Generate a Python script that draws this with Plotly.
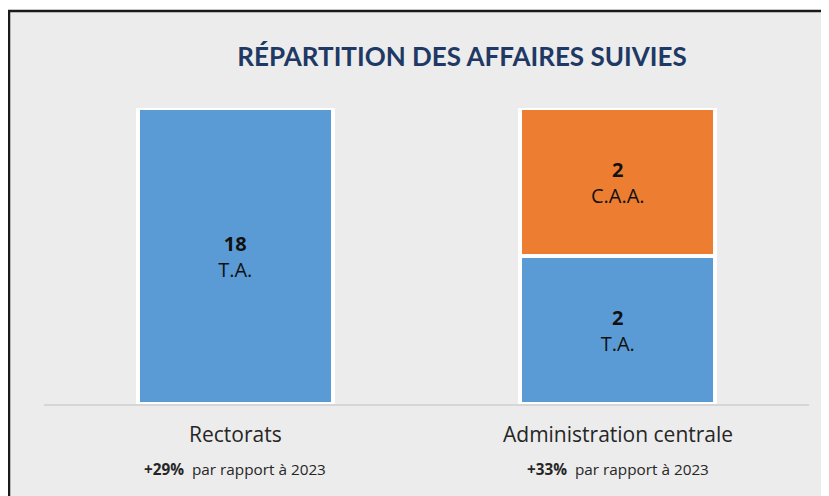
import plotly.graph_objects as go

categories = ["Rectorats", "Administration centrale"]
ta_values = [18, 2]
caa_values = [0, 2]
series_names = ["T.A.", "C.A.A."]
evolution = ["+29%", "+33%"]
evolution_text = "par rapport à 2023"
title_text = "RÉPARTITION DES AFFAIRES SUIVIES"

BLUE = "#5B9BD5"
ORANGE = "#ED7D31"
BG = "#ECECEC"
FONT = "Open Sans"
OFF = 8  # page body margin

def labels(vals, name):
    return [f"<b>{v}</b><br>{name}" if v else "" for v in vals]

fig = go.Figure()
for vals, name, col in [(ta_values, series_names[0], BLUE), (caa_values, series_names[1], ORANGE)]:
    fig.add_trace(go.Bar(
        x=categories, y=vals, name=name,
        marker=dict(color=col, line=dict(color="white", width=4)),
        text=labels(vals, name), textposition="inside",
        insidetextanchor="middle", textangle=0,
        textfont=dict(family=FONT, size=20, color="#111111"),
        width=0.51, hoverinfo="skip",
    ))

# plot area in figure pixels
L, R, T, B = 44 - OFF, 809 - OFF, 108 - OFF, 404 - OFF
def px_x(p):
    return (p - OFF - L) / (R - L)
def px_y(p):
    return (B - (p - OFF)) / (B - T)

fig.add_shape(type="rect", xref="paper", yref="paper",
              x0=px_x(9), x1=px_x(850), y0=px_y(520), y1=px_y(11),
              fillcolor=BG, line=dict(color="#1a1a1a", width=2.5), layer="below")

for cat, ev in zip(categories, evolution):
    fig.add_annotation(x=cat, xref="x", y=px_y(434), yref="paper",
                       text=cat, showarrow=False, yanchor="middle",
                       font=dict(family=FONT, size=21, color="#262626"))
    fig.add_annotation(x=cat, xref="x", y=px_y(469), yref="paper",
                       text=f"<b>{ev}</b>  {evolution_text}", showarrow=False,
                       yanchor="middle",
                       font=dict(family=FONT, size=15.3, color="#262626"))

fig.update_layout(
    width=829, height=496,
    barmode="stack", barnorm="percent",
    paper_bgcolor="white", plot_bgcolor="rgba(0,0,0,0)",
    margin=dict(l=L, r=829 - R, t=T, b=496 - B),
    showlegend=False,
    title=dict(text=f"<b>{title_text}</b>", x=px_x(462), xref="paper",
               xanchor="center", y=1 - (57 - OFF) / 496, yanchor="middle",
               font=dict(family="Lato", size=26, color="#203864")),
    xaxis=dict(showticklabels=False, showline=True, linecolor="#D6D6D6",
               linewidth=2, showgrid=False, zeroline=False, ticks=""),
    yaxis=dict(range=[0, 100], visible=False, showgrid=False, zeroline=False),
)

fig.write_html("out.html")
